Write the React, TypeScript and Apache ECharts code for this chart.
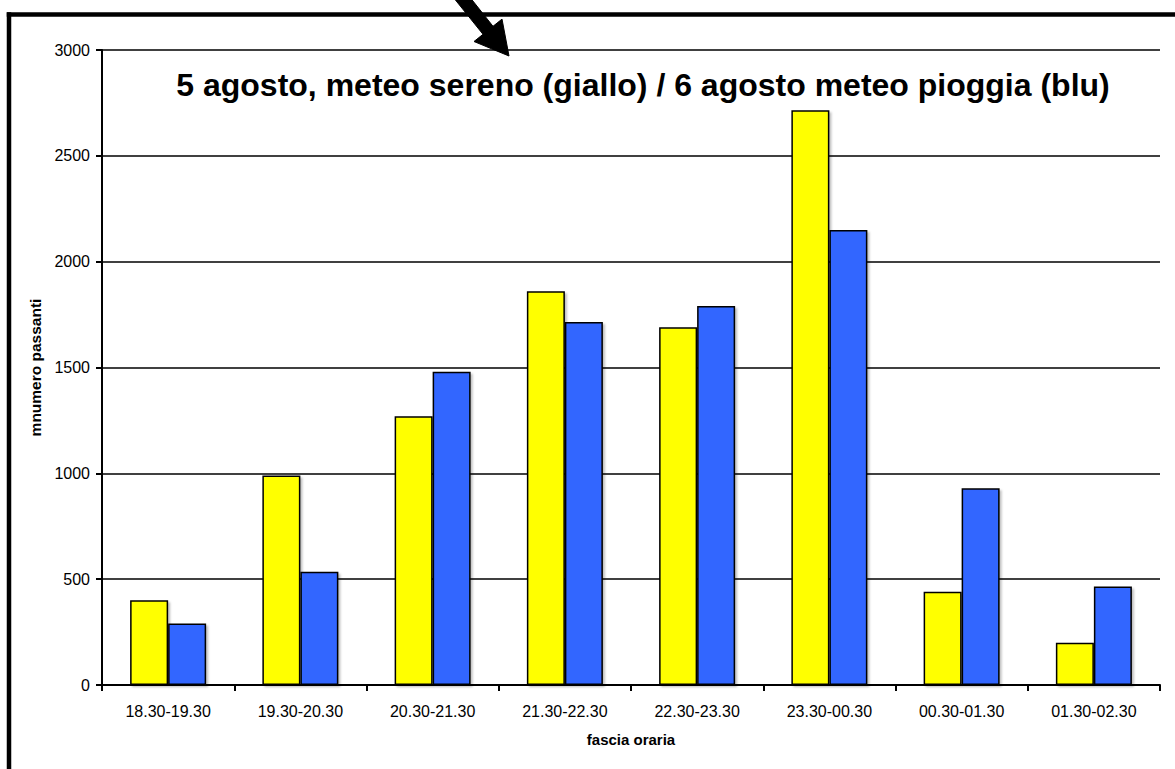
import React, { useEffect, useRef } from "react";
import * as echarts from "echarts";

const categories = [
  "18.30-19.30",
  "19.30-20.30",
  "20.30-21.30",
  "21.30-22.30",
  "22.30-23.30",
  "23.30-00.30",
  "00.30-01.30",
  "01.30-02.30",
];
const sereno5Agosto = [400, 990, 1270, 1860, 1690, 2715, 440, 200];
const pioggia6Agosto = [290, 535, 1480, 1715, 1790, 2150, 930, 465];
const titleText = "5 agosto, meteo sereno (giallo) / 6 agosto meteo pioggia (blu)";
const xName = "fascia oraria";
const yName = "mnumero passanti";

const FONT = '"Liberation Sans", Arial, Helvetica, sans-serif';

export default function App() {
  const ref = useRef<HTMLDivElement>(null);
  useEffect(() => {
    if (!ref.current) return;
    const chart = echarts.init(ref.current, undefined, { renderer: "svg" });
    const barStyle = (color: string) => ({
      color,
      borderColor: "#000",
      borderWidth: 1.5,
      shadowColor: "rgba(0,0,0,0.25)",
      shadowBlur: 2,
      shadowOffsetX: 2,
      shadowOffsetY: 2,
    });
    chart.setOption({
      animation: false,
      backgroundColor: "#ffffff",
      textStyle: { fontFamily: FONT },
      title: {
        text: titleText,
        left: 638,
        top: 64,
        textAlign: "center",
        textStyle: { fontFamily: FONT, fontSize: 32, fontWeight: "bold", color: "#000" },
      },
      grid: { left: 102, right: 15, top: 50, bottom: 84, containLabel: false },
      xAxis: {
        type: "category",
        data: categories,
        name: xName,
        nameLocation: "middle",
        nameGap: 47,
        nameTextStyle: { fontFamily: FONT, fontSize: 15, fontWeight: "bold", color: "#000" },
        axisLine: { show: true, lineStyle: { color: "#000", width: 2 } },
        axisTick: { show: true, alignWithLabel: false, length: 6, lineStyle: { color: "#000", width: 2 } },
        axisLabel: { fontFamily: FONT, fontSize: 16, color: "#000", margin: 18, interval: 0 },
        splitLine: { show: false },
      },
      yAxis: {
        type: "value",
        min: 0,
        max: 3000,
        interval: 500,
        name: yName,
        nameLocation: "middle",
        nameGap: 57,
        nameTextStyle: { fontFamily: FONT, fontSize: 15.5, fontWeight: "bold", color: "#000" },
        axisLine: { show: true, lineStyle: { color: "#000", width: 2 } },
        axisTick: { show: true, length: 6, lineStyle: { color: "#000", width: 2 } },
        axisLabel: {
          fontFamily: FONT,
          fontSize: 16,
          color: "#000",
          margin: 12,
          formatter: (v: number) => String(v),
        },
        splitLine: { show: true, lineStyle: { color: "#000", width: 1.5 } },
      },
      series: [
        {
          name: "5 agosto",
          type: "bar",
          data: sereno5Agosto,
          barWidth: 38,
          barGap: "0%",
          itemStyle: barStyle("#FFFF00"),
        },
        {
          name: "6 agosto",
          type: "bar",
          data: pioggia6Agosto,
          barWidth: 38,
          barGap: "0%",
          itemStyle: barStyle("#3366FF"),
        },
      ],
      graphic: [
        {
          type: "rect",
          silent: true,
          shape: { x: 6.75, y: 12.25, width: 1168.25, height: 4.5 },
          style: { fill: "#000" },
          z: 100,
        },
        {
          type: "rect",
          silent: true,
          shape: { x: 6.75, y: 12.25, width: 4.5, height: 756.75 },
          style: { fill: "#000" },
          z: 100,
        },
        {
          type: "polygon",
          silent: true,
          shape: {
            points: [
              [445, -13],
              [455.5, -21],
              [493, 26.3],
              [502, 19.1],
              [509, 56],
              [474, 41.5],
              [483, 34.3],
            ],
          },
          style: { fill: "#000", stroke: "#000", lineWidth: 1 },
          z: 101,
        },
      ],
    });
    return () => chart.dispose();
  }, []);
  return (
    <div
      ref={ref}
      style={{ position: "fixed", left: 0, top: 0, width: 1175, height: 769, background: "#fff" }}
    />
  );
}
